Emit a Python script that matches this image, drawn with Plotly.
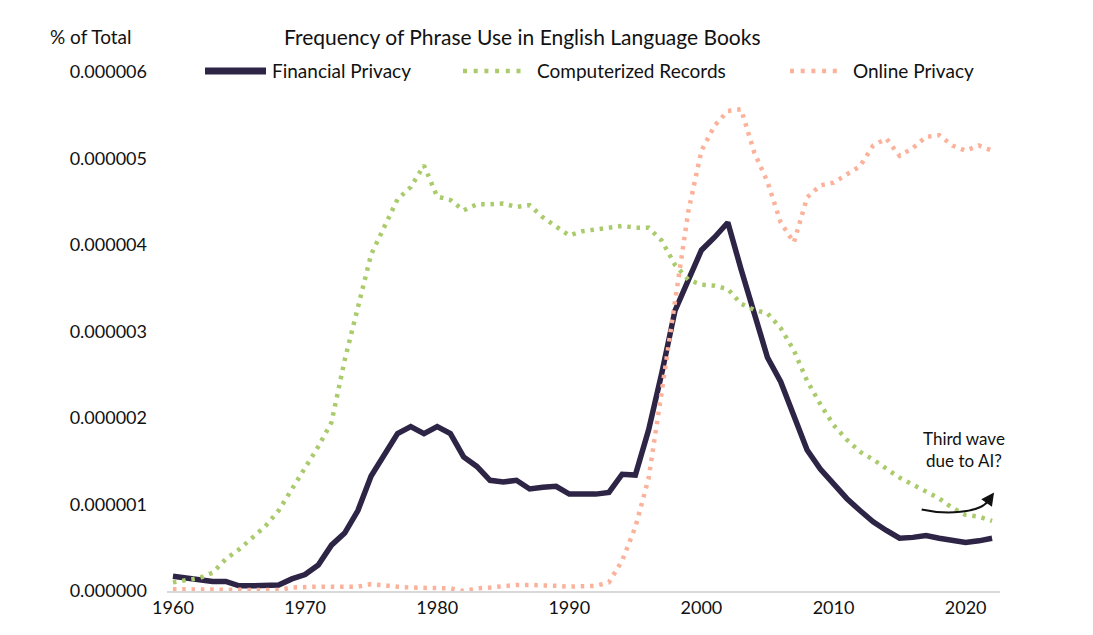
import plotly.graph_objects as go
import numpy as np

# years on the x axis
years = list(range(1960, 2023))

# values, in millionths of a percent
financial_privacy = [
    0.17, 0.15, 0.13, 0.11, 0.11, 0.06, 0.06, 0.07, 0.07, 0.14,
    0.19, 0.30, 0.53, 0.67, 0.93, 1.33, 1.59, 1.82, 1.90, 1.82,
    1.90, 1.82, 1.55, 1.44, 1.28, 1.26, 1.28, 1.18, 1.20, 1.21,
    1.12, 1.12, 1.12, 1.14, 1.35, 1.34, 1.86, 2.52, 3.24, 3.59,
    3.94, 4.09, 4.26, 3.72, 3.21, 2.70, 2.42, 2.01, 1.63, 1.41,
    1.23, 1.07, 0.93, 0.80, 0.70, 0.61, 0.62, 0.64, 0.61, 0.59,
    0.56, 0.58, 0.61,
]
computerized_records = [
    0.10, 0.13, 0.15, 0.21, 0.37, 0.48, 0.62, 0.75, 0.93, 1.17,
    1.41, 1.67, 1.95, 2.67, 3.28, 3.89, 4.21, 4.53, 4.67, 4.92,
    4.56, 4.52, 4.40, 4.47, 4.47, 4.48, 4.44, 4.46, 4.32, 4.21,
    4.11, 4.16, 4.18, 4.20, 4.22, 4.20, 4.20, 4.05, 3.77, 3.60,
    3.54, 3.53, 3.49, 3.32, 3.25, 3.21, 3.04, 2.78, 2.43, 2.16,
    1.92, 1.75, 1.61, 1.52, 1.41, 1.31, 1.23, 1.15, 1.07, 0.96,
    0.88, 0.86, 0.81,
]
online_privacy = [
    0.02, 0.02, 0.02, 0.02, 0.02, 0.01, 0.01, 0.01, 0.01, 0.04,
    0.05, 0.05, 0.05, 0.05, 0.05, 0.08, 0.06, 0.05, 0.04, 0.04,
    0.04, 0.03, 0.00, 0.03, 0.04, 0.06, 0.07, 0.07, 0.07, 0.06,
    0.05, 0.06, 0.06, 0.10, 0.35, 0.74, 1.30, 2.31, 3.39, 4.38,
    5.09, 5.38, 5.55, 5.57, 5.07, 4.73, 4.26, 4.03, 4.55, 4.69,
    4.72, 4.82, 4.91, 5.15, 5.23, 5.03, 5.12, 5.25, 5.27, 5.15,
    5.09, 5.15, 5.09,
]

x_ticks = [1960, 1970, 1980, 1990, 2000, 2010, 2020]
y_ticks = [0, 1e-6, 2e-6, 3e-6, 4e-6, 5e-6, 6e-6]

FONT = "Lato"
INK = "#111111"
NAVY = "#2d2446"
GREEN = "#aacb6c"
SALMON = "#fbb19a"
DOTS = "3.5px,5.8px"
LEGEND_DOTS = "4px,6.7px"

# plot area in page pixels: x 167..1000, y 72..591 (page has an 8px body margin)
def px(x):
    return (x - 167) / 833

def py(y):
    return (591 - y) / 519

fig = go.Figure()
fig.add_trace(go.Scatter(
    x=years, y=np.array(financial_privacy) * 1e-6, mode="lines",
    name="Financial Privacy", line=dict(color=NAVY, width=5.5),
))
fig.add_trace(go.Scatter(
    x=years, y=np.array(computerized_records) * 1e-6, mode="lines",
    name="Computerized Records", line=dict(color=GREEN, width=4.5, dash=DOTS),
))
fig.add_trace(go.Scatter(
    x=years, y=np.array(online_privacy) * 1e-6, mode="lines",
    name="Online Privacy", line=dict(color=SALMON, width=4.5, dash=DOTS),
))

# hand-made legend row so the spacing follows the original
legend_items = [
    ("Financial Privacy", NAVY, "solid", 7, 205, 266, 270),
    ("Computerized Records", GREEN, LEGEND_DOTS, 4.5, 463, 522, 535),
    ("Online Privacy", SALMON, LEGEND_DOTS, 4.5, 790, 842, 851),
]
for label, color, dash, w, x0, x1, xt in legend_items:
    fig.add_shape(
        type="line", xref="paper", yref="paper",
        x0=px(x0), x1=px(x1), y0=py(71), y1=py(71),
        line=dict(color=color, width=w, dash=dash),
    )
    fig.add_annotation(
        x=px(xt), y=py(71), xref="paper", yref="paper", text=label,
        showarrow=False, xanchor="left", yanchor="middle",
        font=dict(family=FONT, size=19, color=INK),
    )

# curved arrow for the note
fig.add_shape(
    type="path", xref="x", yref="y",
    path="M 2016.67,0.000000943 C 2018.5,0.00000088 2021,0.0000009 2021.7,0.00000104",
    line=dict(color=INK, width=2),
)
fig.add_annotation(
    x=2022.15, y=1.14e-6, ax=2021.6, ay=1.02e-6, xref="x", yref="y",
    axref="x", ayref="y", text="", showarrow=True,
    arrowhead=2, arrowsize=1.3, arrowwidth=2, arrowcolor=INK,
)
fig.add_annotation(
    x=2019.9, y=1.64e-6, xref="x", yref="y",
    text="Third wave<br>due to AI?", showarrow=False, align="center",
    font=dict(family=FONT, size=17, color=INK),
)

# title and axis caption
fig.add_annotation(
    x=px(522), y=py(36), xref="paper", yref="paper",
    text="Frequency of Phrase Use in English Language Books",
    showarrow=False, yanchor="middle",
    font=dict(family=FONT, size=21, color=INK),
)
fig.add_annotation(
    x=px(48), y=py(36), xref="paper", yref="paper",
    text="% of Total", showarrow=False, xanchor="left", yanchor="middle",
    font=dict(family=FONT, size=19, color=INK),
)

fig.update_layout(
    width=1085, height=627,
    margin=dict(l=159, r=93, t=64, b=44),
    paper_bgcolor="white", plot_bgcolor="white",
    font=dict(family=FONT, size=18, color=INK),
    showlegend=False,
    xaxis=dict(
        range=[1959.55, 2022.6], tickvals=x_ticks, showgrid=False,
        showline=True, linecolor="#d9d9d9", linewidth=1.5, zeroline=False,
        ticks="", tickfont=dict(family=FONT, size=18),
    ),
    yaxis=dict(
        range=[0, 6e-6], tickvals=y_ticks, tickformat=".6f", showgrid=False,
        showline=False, zeroline=False, ticks="", ticklabelstandoff=19,
        tickfont=dict(family=FONT, size=18),
    ),
)

fig.write_html("out.html")
